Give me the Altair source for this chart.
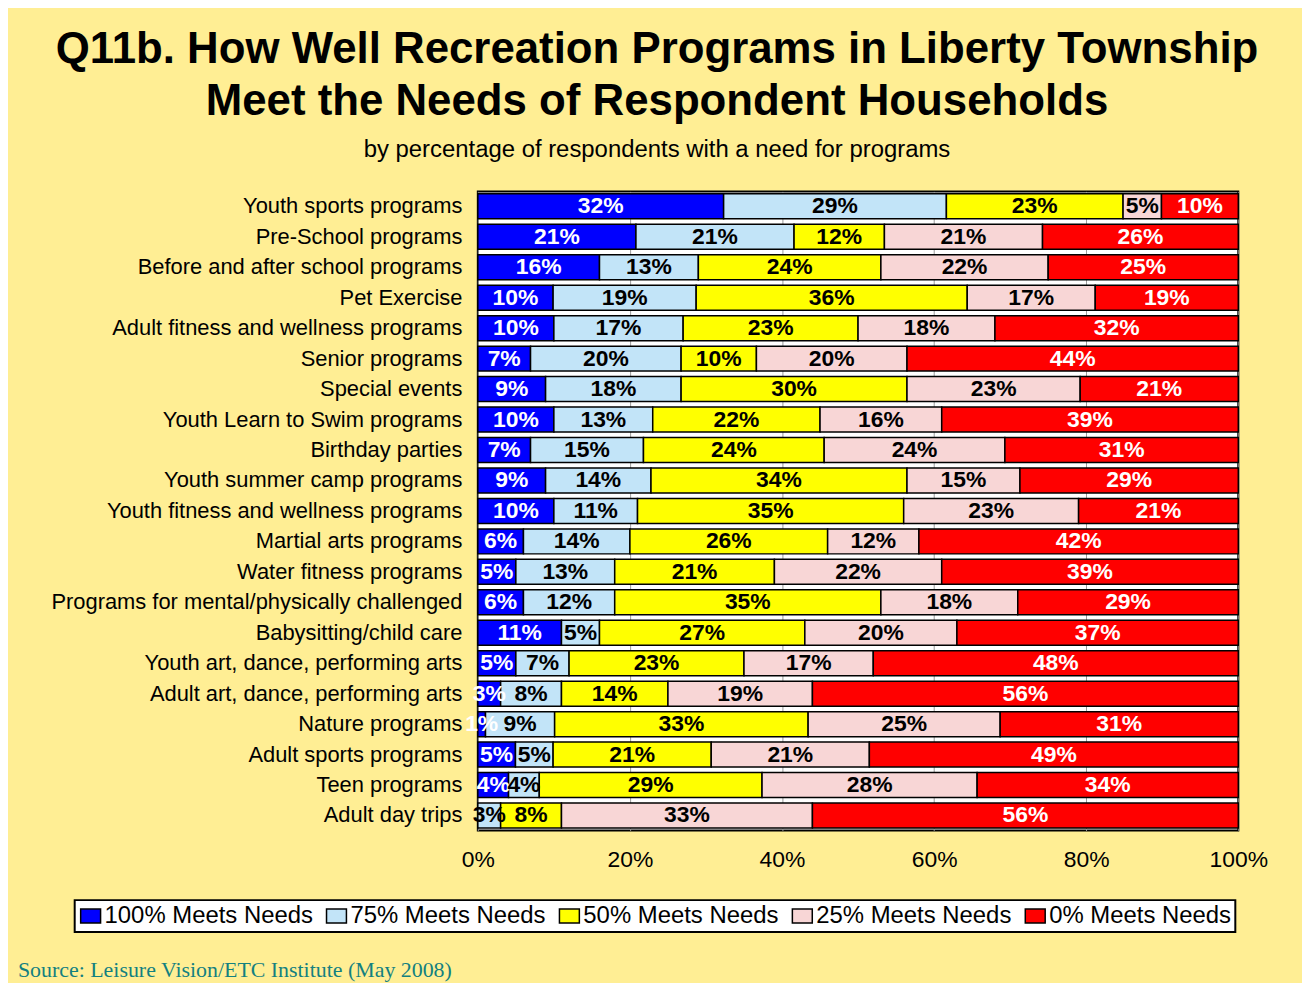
import altair as alt
import pandas as pd

categories = [
    "Youth sports programs",
    "Pre-School programs",
    "Before and after school programs",
    "Pet Exercise",
    "Adult fitness and wellness programs",
    "Senior programs",
    "Special events",
    "Youth Learn to Swim programs",
    "Birthday parties",
    "Youth summer camp programs",
    "Youth fitness and wellness programs",
    "Martial arts programs",
    "Water fitness programs",
    "Programs for mental/physically challenged",
    "Babysitting/child care",
    "Youth art, dance, performing arts",
    "Adult art, dance, performing arts",
    "Nature programs",
    "Adult sports programs",
    "Teen programs",
    "Adult day trips",
]
series = ["100% Meets Needs", "75% Meets Needs", "50% Meets Needs", "25% Meets Needs", "0% Meets Needs"]
meets100 = [32, 21, 16, 10, 10, 7, 9, 10, 7, 9, 10, 6, 5, 6, 11, 5, 3, 1, 5, 4, 0]
meets75 = [29, 21, 13, 19, 17, 20, 18, 13, 15, 14, 11, 14, 13, 12, 5, 7, 8, 9, 5, 4, 3]
meets50 = [23, 12, 24, 36, 23, 10, 30, 22, 24, 34, 35, 26, 21, 35, 27, 23, 14, 33, 21, 29, 8]
meets25 = [5, 21, 22, 17, 18, 20, 23, 16, 24, 15, 23, 12, 22, 18, 20, 17, 19, 25, 21, 28, 33]
meets0 = [10, 26, 25, 19, 32, 44, 21, 39, 31, 29, 21, 42, 39, 29, 37, 48, 56, 31, 49, 34, 56]
x_ticks = [0, 0.2, 0.4, 0.6, 0.8, 1.0]
source_text = "Source:  Leisure Vision/ETC Institute (May 2008)"

colors = ["#0000FF", "#C2E4F8", "#FFFF00", "#F8D6D6", "#FF0000"]
text_colors = ["white", "black", "black", "black", "white"]

rows = []
for si, (name, vals) in enumerate(zip(series, [meets100, meets75, meets50, meets25, meets0])):
    for cat, v in zip(categories, vals):
        rows.append({"item": cat, "series": name, "order": si, "value": v, "tc": text_colors[si]})
df = pd.DataFrame(rows)

FONT = "Liberation Sans"

base = alt.Chart(df).transform_stack(
    stack="value", groupby=["item"], as_=["v0", "v1"], offset="normalize",
    sort=[alt.SortField("order", order="ascending")]
).transform_calculate(mid="(datum.v0 + datum.v1) / 2", label="datum.value + '%'")

y_enc = alt.Y(
    "item:N", sort=categories, title=None,
    scale=alt.Scale(paddingInner=0.18, paddingOuter=0.08),
    axis=alt.Axis(labelFontSize=22, labelFont=FONT, labelColor="black", ticks=False,
                  domain=False, labelPadding=16, labelLimit=600),
)

bars = base.mark_bar(stroke="black", strokeWidth=1.5).encode(
    x=alt.X("v0:Q", title=None, scale=alt.Scale(domain=[0, 1], nice=False),
            axis=alt.Axis(format="%", values=x_ticks, grid=True, gridColor="#9a9a9a",
                          ticks=False, domain=False, labelFontSize=23, labelFont=FONT,
                          labelColor="black", labelPadding=18, labelFlush=False)),
    x2="v1:Q",
    y=y_enc,
    color=alt.Color("series:N", scale=alt.Scale(domain=series, range=colors),
                    legend=alt.Legend(orient="none", legendX=-405, legendY=712,
                                      direction="horizontal", columns=5, title=None,
                                      labelFontSize=24, labelFont=FONT, labelColor="black",
                                      labelLimit=600,
                                      symbolType="M-1,-0.7H1V0.7H-1Z", symbolSize=400,
                                      symbolStrokeColor="black", symbolStrokeWidth=1.5,
                                      symbolOpacity=1, fillColor="white", strokeColor="black",
                                      padding=4, columnPadding=10, labelOffset=2)),
)

labels = base.transform_filter("datum.value > 0").mark_text(
    fontSize=23, fontWeight="bold", font=FONT
).encode(
    x="mid:Q",
    y=alt.Y("item:N", sort=categories),
    text="label:N",
    color=alt.Color("tc:N", scale=None),
)

source = alt.Chart(pd.DataFrame({"t": [source_text]})).mark_text(
    align="left", baseline="alphabetic", font="Liberation Serif", fontSize=22, color="#138080"
).encode(text="t:N", x=alt.value(-462), y=alt.value(789))

chart = alt.layer(bars, labels, source).properties(
    width=764, height=642,
    title=alt.Title(
        ["Q11b. How Well Recreation Programs in Liberty Township",
         "Meet the Needs of Respondent Households"],
        subtitle="by percentage of respondents with a need for programs",
        font=FONT, fontSize=44, fontWeight="bold", lineHeight=52, color="black",
        subtitleFont=FONT, subtitleFontSize=24, subtitleColor="black", subtitlePadding=14,
        offset=30, anchor="middle", frame="group", dx=-202,
    ),
    autosize=alt.AutoSizeParams(type="none"),
    padding={"left": 472, "top": 182, "right": 64, "bottom": 151},
    background="#FFEE94",
).configure_view(fill="white", stroke="black", strokeWidth=2).configure_legend(strokeWidth=2)

chart.save("out.html", embed_options={"renderer": "svg", "actions": False})
